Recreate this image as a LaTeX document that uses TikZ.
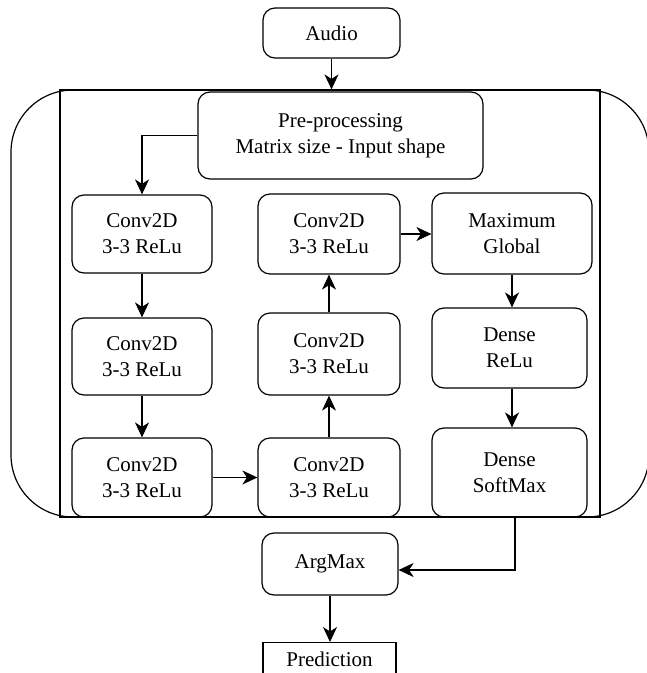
\documentclass[tikz,border=0pt]{standalone}
\usepackage{fontspec}
\setmainfont{Liberation Serif}
\usetikzlibrary{arrows.meta}
\begin{document}
\begin{tikzpicture}[x=1pt,y=-1pt,
  box/.style={draw,line width=1.2pt,rounded corners=12pt,align=center,inner sep=0pt,
    font=\fontsize{21}{26}\selectfont},
  sbox/.style={draw,line width=1.2pt,align=center,inner xsep=0pt,
    font=\fontsize{21}{26}\selectfont},
  arr/.style={line width=1.2pt,-{Stealth[length=15pt,width=14pt,inset=4.5pt]}}]
\useasboundingbox (0,0) rectangle (647,673);
% outer rounded container and inner frame
\draw[line width=1.2pt,rounded corners=62pt] (11,90) rectangle (649,517);
\node[draw,line width=1.2pt,inner sep=0pt,minimum width=540pt,minimum height=427pt] (frame) at (330,303.5) {};
% nodes
\node[box,minimum width=137pt,minimum height=50pt] (audio) at (331.5,33) {Audio};
\node[box,minimum width=285pt,minimum height=87pt] (pre) at (340.5,135.5) {Pre-processing\\Matrix size - Input shape};
\node[box,minimum width=140pt,minimum height=78pt] (c11) at (142,234) {Conv2D\\3-3 ReLu};
\node[box,minimum width=140pt,minimum height=77pt] (c12) at (142,356.5) {Conv2D\\3-3 ReLu};
\node[box,minimum width=140pt,minimum height=79pt] (c13) at (142,477.5) {Conv2D\\3-3 ReLu};
\node[box,minimum width=142pt,minimum height=80pt] (c21) at (329,234) {Conv2D\\3-3 ReLu};
\node[box,minimum width=142pt,minimum height=82pt] (c22) at (329,354) {Conv2D\\3-3 ReLu};
\node[box,minimum width=142pt,minimum height=79pt] (c23) at (329,477.5) {Conv2D\\3-3 ReLu};
\node[box,minimum width=160pt,minimum height=81pt] (mg) at (512,233.5) {Maximum\\Global};
\node[box,minimum width=155pt,minimum height=80pt] (dr) at (509.5,348) {Dense\\ReLu};
\node[box,minimum width=155pt,minimum height=89pt] (ds) at (509.5,472.5) {Dense\\SoftMax};
\node[box,minimum width=136pt,minimum height=62pt] (am) at (330,564) {ArgMax};
\node[sbox,anchor=north,minimum width=133pt,inner ysep=9pt,text height=15pt,text depth=6pt] (pred) at (329.5,642) {Prediction};
% connectors
\draw[arr] (audio.south) -- (audio.south |- frame.north);
\draw[arr] (pre.west) -| (c11.north);
\draw[arr] (c11.south) -- (c12.north);
\draw[arr] (c12.south) -- (c13.north);
\draw[arr] (c13.east) -- (c23.west);
\draw[arr] (c23.north) -- (c22.south);
\draw[arr] (c22.north) -- (c21.south);
\draw[arr] (c21.east) -- (c21.east -| mg.west);
\draw[arr] (mg.south) -- (mg.south |- dr.north);
\draw[arr] (dr.south -| mg.south) -- (mg.south |- ds.north);
\coordinate (k) at (515,570);
\draw[arr] (ds.south -| k) -- (k) -- (k -| am.east);
\draw[arr] (am.south) -- (am.south |- pred.north);
\end{tikzpicture}
\end{document}
